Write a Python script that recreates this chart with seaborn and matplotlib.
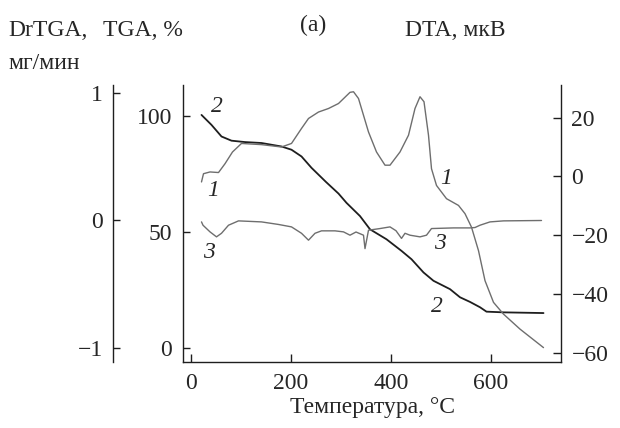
import matplotlib
matplotlib.use("Agg")
import matplotlib.pyplot as plt
import seaborn as sns
import pandas as pd

# ---- data ----
temp_dta = [21, 25, 38, 55, 68, 83, 101, 141, 181, 201, 221, 235, 255, 275, 295, 318, 325, 335,
            355, 371, 388, 398, 418, 435, 448, 458, 466, 475, 481, 491, 511, 535, 548, 561, 575,
            588, 605, 625, 658, 705]
dta = [-1.9, 0.9, 1.5, 1.3, 4.3, 8.3, 11.2, 10.8, 10.0, 11.2, 16.3, 19.7, 21.9, 23.1, 24.8, 28.6,
       28.8, 26.5, 15.1, 8.3, 3.8, 3.8, 8.3, 14.0, 23.1, 27.1, 25.4, 14.0, 2.6, -3.1, -7.6, -9.9,
       -12.7, -17.3, -25.3, -35.5, -42.9, -46.9, -52.0, -58.3]

temp_tga = [21, 41, 61, 81, 108, 141, 181, 201, 221, 241, 270, 295, 311, 338, 358, 391, 421, 441,
            465, 485, 518, 538, 558, 578, 591, 625, 705]
tga = [100.4, 96.1, 91.1, 89.3, 88.7, 88.3, 86.8, 85.4, 82.5, 77.6, 71.5, 66.5, 62.5, 56.8, 51.1,
       46.8, 41.8, 38.2, 32.5, 28.9, 25.3, 21.8, 19.8, 17.5, 15.6, 15.3, 15.0]

temp_dr = [21, 24, 38, 51, 61, 75, 95, 141, 175, 201, 221, 235, 248, 261, 288, 305, 318, 330, 345,
           348, 355, 378, 398, 410, 421, 428, 438, 458, 471, 481, 525, 558, 568, 578, 598, 625, 701]
drtga = [-0.011, -0.037, -0.089, -0.128, -0.10, -0.037, -0.003, -0.011, -0.031, -0.05, -0.10,
         -0.154, -0.10, -0.081, -0.081, -0.089, -0.115, -0.09, -0.115, -0.22, -0.076, -0.063,
         -0.05, -0.08, -0.14, -0.10, -0.115, -0.128, -0.115, -0.063, -0.058, -0.058, -0.055,
         -0.037, -0.011, -0.003, 0.0]

x_ticks = [0, 200, 400, 600]
tga_ticks = [0, 50, 100]
dta_ticks = [-60, -40, -20, 0, 20]
dr_ticks = [-1, 0, 1]

df_dta = pd.DataFrame({"T": temp_dta, "v": dta})
df_tga = pd.DataFrame({"T": temp_tga, "v": tga})
df_dr = pd.DataFrame({"T": temp_dr, "v": drtga})

# ---- style ----
sns.set_style("ticks")
plt.rcParams['font.family'] = ['Liberation Serif', 'DejaVu Serif']
FS = 17
INK = "#1e1e1e"
GRAY = "#6e6e6e"

W, H = 620, 428
fig = plt.figure(figsize=(W / 100, H / 100), dpi=100)
L, R, T, B = 183, 561, 85, 362
ax = fig.add_axes([L / W, 1 - B / H, (R - L) / W, (B - T) / H])
ax_dta = ax.twinx()
ax_dr = ax.twinx()

sns.lineplot(data=df_tga, x="T", y="v", ax=ax, color=INK, lw=1.3)
sns.lineplot(data=df_dta, x="T", y="v", ax=ax_dta, color=GRAY, lw=1.0)
sns.lineplot(data=df_dr, x="T", y="v", ax=ax_dr, color=GRAY, lw=1.0)

ax.set_xlim(-16, 740)
ax.set_ylim(-6.1, 113.3)
ax_dta.set_ylim(-63.2, 31.1)
ax_dr.set_ylim(-1.107, 1.06)

for a in (ax, ax_dta, ax_dr):
    a.set_xlabel("")
    a.set_ylabel("")
    for s in a.spines.values():
        s.set_color(INK)
        s.set_linewidth(1.0)

ax.spines['top'].set_visible(False)
ax.spines['right'].set_visible(False)
ax_dta.spines['top'].set_visible(False)
ax_dta.spines['left'].set_visible(False)
ax_dta.spines['bottom'].set_visible(False)
ax_dr.spines['top'].set_visible(False)
ax_dr.spines['right'].set_visible(False)
ax_dr.spines['bottom'].set_visible(False)
ax_dr.spines['left'].set_position(('axes', -70 / (R - L)))
ax_dr.yaxis.set_ticks_position('left')
ax_dr.yaxis.set_label_position('left')

ax.set_xticks(x_ticks)
ax.set_yticks(tga_ticks)
ax_dta.set_yticks(dta_ticks)
ax_dr.set_yticks(dr_ticks)

ax.tick_params(axis='x', direction='in', length=6, width=1.0, color=INK, pad=8,
               labelsize=FS, top=False)
ax.tick_params(axis='y', direction='in', length=5, width=1.0, color=INK, pad=8,
               labelsize=FS, right=False)
ax_dta.tick_params(axis='y', direction='in', length=6, width=1.0, color=INK, pad=7.5,
                   labelsize=FS, left=False)
ax_dr.tick_params(axis='y', direction='in', length=5, width=1.0, color=INK, pad=7,
                  labelsize=FS, right=False)

def px(x, y):
    return x / W, 1 - y / H

# header texts
fig.text(*px(8, 36), "DrTGA,", fontsize=FS, ha='left', va='baseline')
fig.text(*px(8, 69), "мг/мин", fontsize=FS, ha='left', va='baseline')
fig.text(*px(103, 36), "TGA, %", fontsize=FS, ha='left', va='baseline')
fig.text(*px(313, 31), "(a)", fontsize=FS, ha='center', va='baseline')
fig.text(*px(405, 36), "DTA, мкВ", fontsize=FS, ha='left', va='baseline')
fig.text(*px(372, 407), "Температура, °C", fontsize=FS, ha='center', va='center')

# curve labels
for (xx, yy, s) in [(213, 191, "1"), (217, 107, "2"), (209, 253, "3"),
                    (446, 179, "1"), (440, 243, "3"), (437, 307, "2")]:
    fig.text(*px(xx, yy), s, fontsize=FS, style='italic', ha='center', va='center')

fig.savefig("out.png", dpi=100)
